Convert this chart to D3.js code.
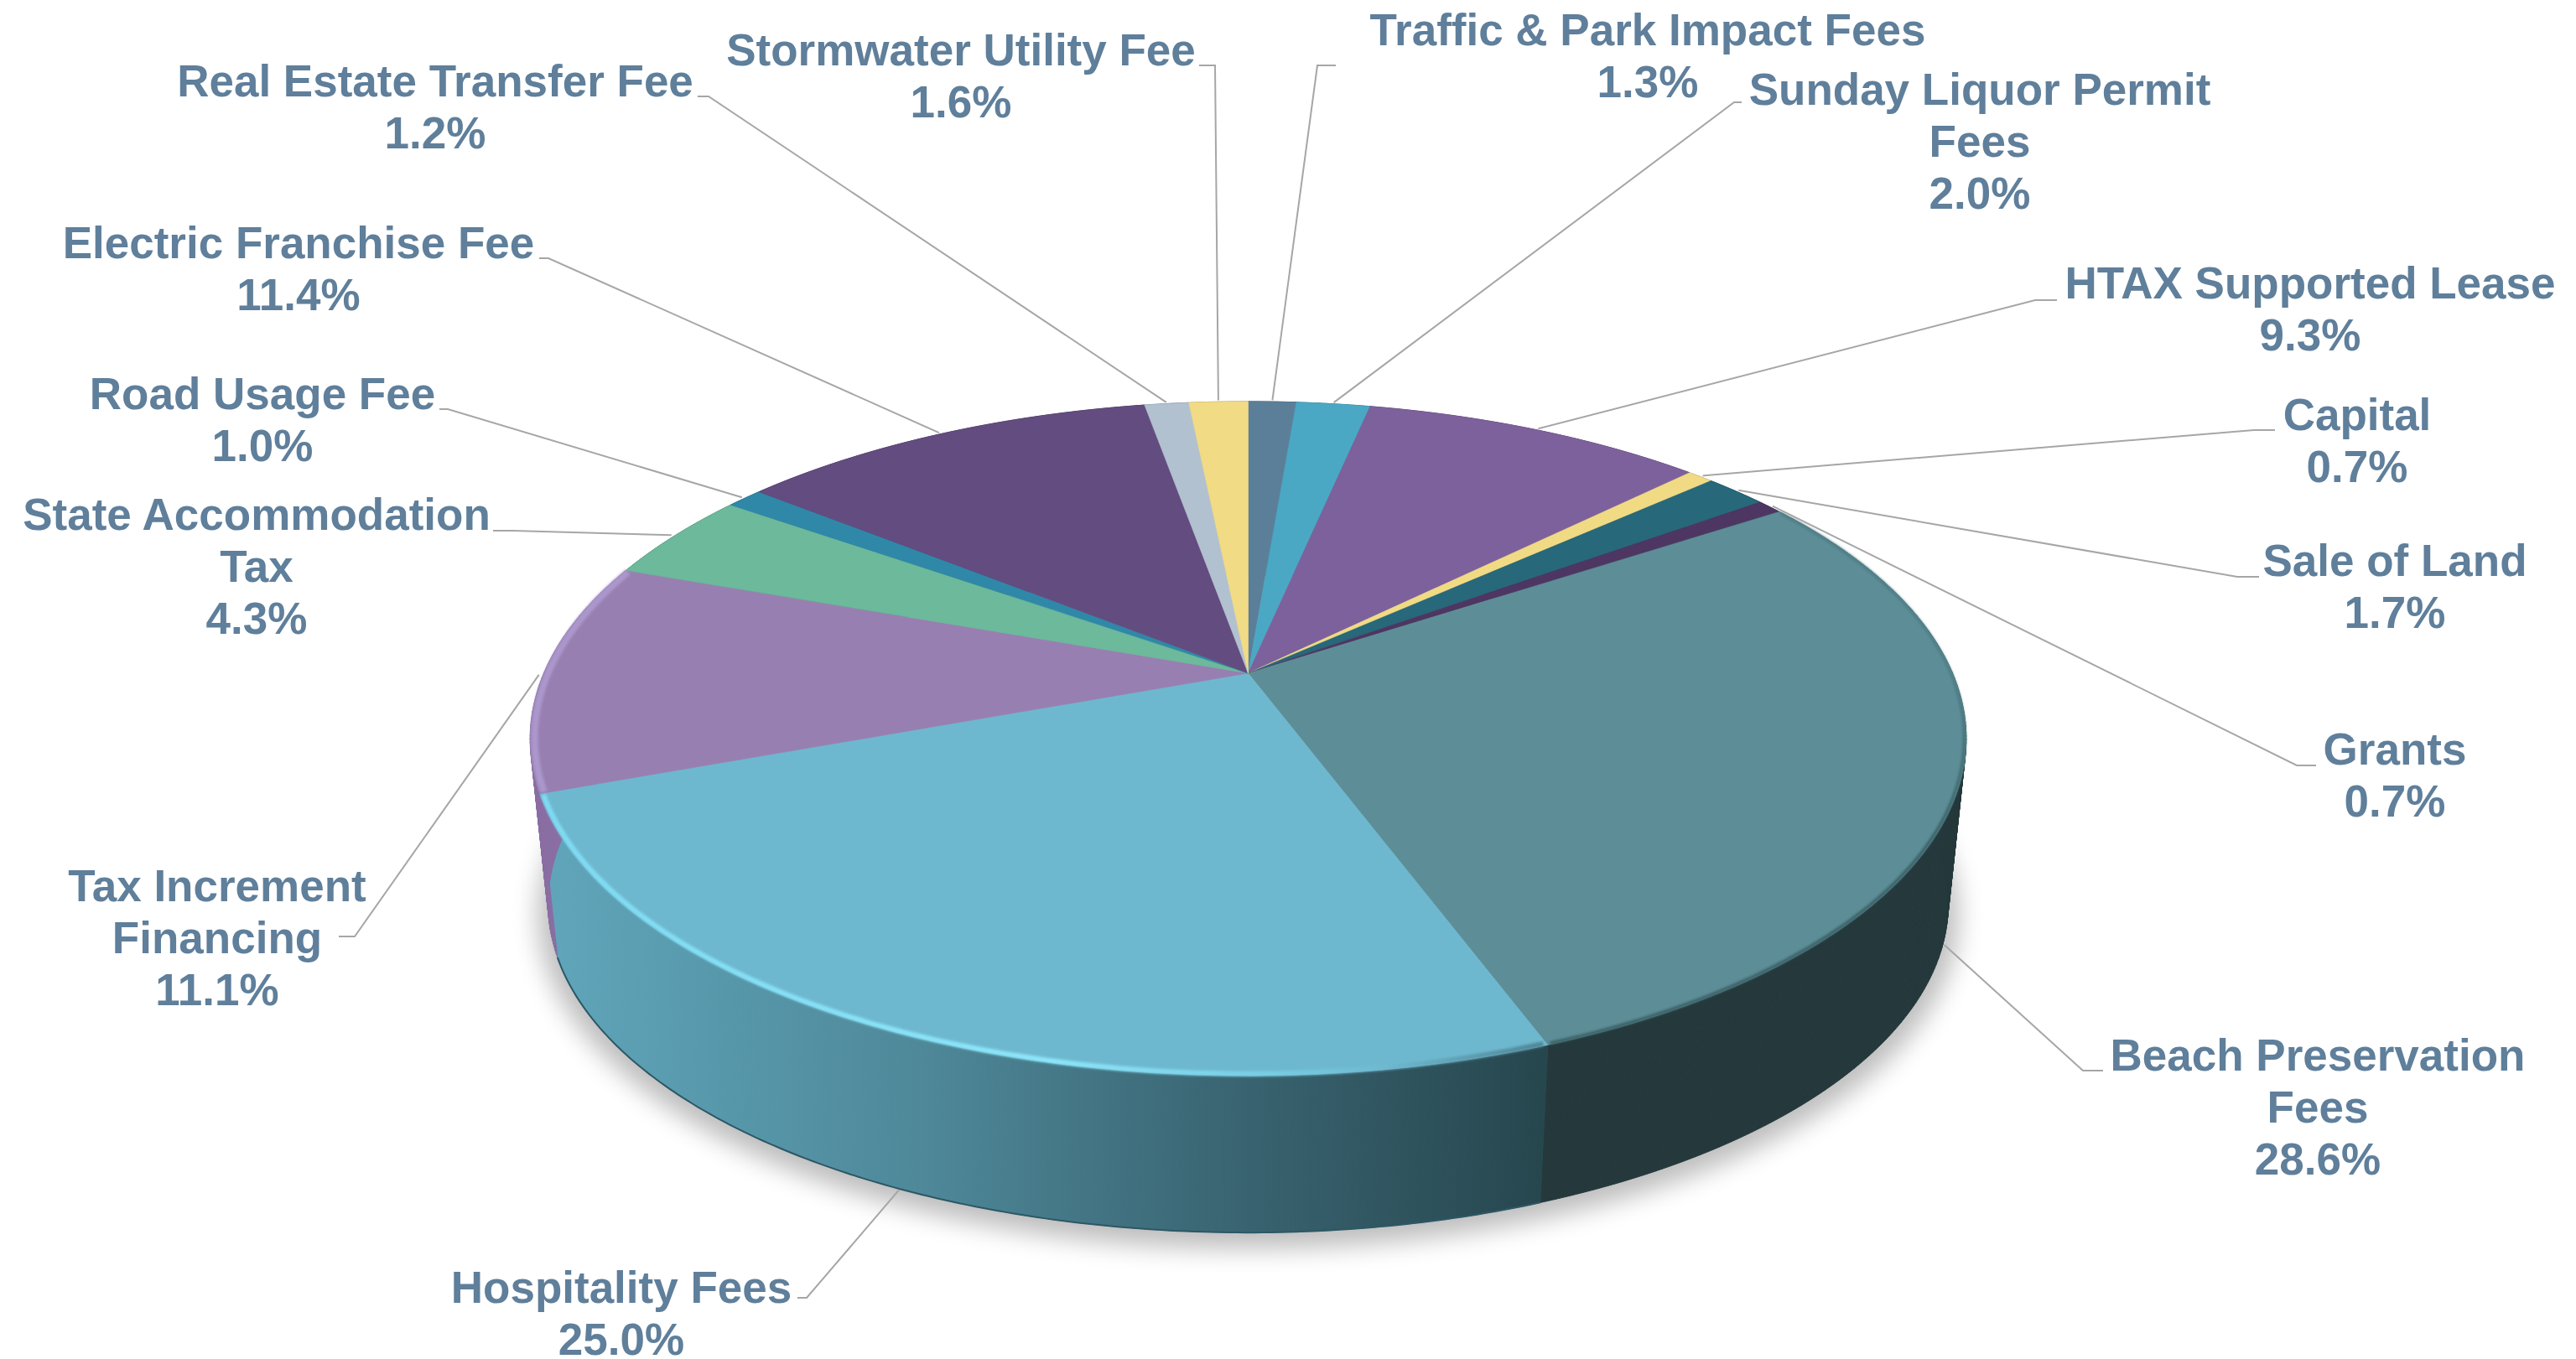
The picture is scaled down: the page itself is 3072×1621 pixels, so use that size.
<!DOCTYPE html>
<html>
<head>
<meta charset="utf-8">
<script src="https://cdn.jsdelivr.net/npm/d3@7"></script>
<style>
  body { margin: 0; background: #fff; }
  svg { display: block; }
</style>
</head>
<body>
<svg width="3072" height="1621"></svg>
<script>
// slices run clockwise from 12 o'clock
var categories = ["Traffic & Park Impact Fees", "Sunday Liquor Permit\nFees", "HTAX Supported Lease", "Capital",
  "Sale of Land", "Grants", "Beach Preservation\nFees", "Hospitality Fees", "Tax Increment\nFinancing",
  "State Accommodation\nTax", "Road Usage Fee", "Electric Franchise Fee", "Real Estate Transfer Fee", "Stormwater Utility Fee"];
var shares = [1.3, 2.0, 9.3, 0.7, 1.7, 0.7, 28.6, 25.0, 11.1, 4.3, 1.0, 11.4, 1.2, 1.6];
var topColors = ["#5c7f99", "#4ba8c4", "#7d619c", "#f0da84", "#27687a", "#4d3662", "#5d8e97",
  "#6eb8cf", "#987fb1", "#6cb99b", "#3088a8", "#634c80", "#b2c1d0", "#f1db85"];
var wallColors = ["#3a4f60", "#2f6a7c", "#4f3d62", "#978952", "#18414d", "#30223e", "#25393c",
  "url(#hospWall)", "#8a6ea3", "#447560", "#1e566a", "#3e3050", "#707a83", "#988a54"];

// label layout: centre x, first baseline, then leader elbow (from x, to x, y)
var labelX = [1965, 2361, 2755, 2811, 2856, 2856, 2764, 741, 259, 306, 313, 356, 519, 1146];
var labelY = [54, 125, 356, 513, 687, 912, 1277, 1554, 1075, 632, 488, 308, 115, 78];
var elbowFrom = [1593, 2077, 2453, 2713, 2694, 2762, 2508, 951, 404, 588, 524, 643, 832, 1430];
var elbowTo = [1571, 2068, 2427, 2688, 2668, 2739, 2484, 962, 423, 611, 534, 654, 845, 1449];
var elbowY = [78, 122, 358, 513, 688, 913, 1277, 1548, 1117, 633, 488, 308, 115, 78];
var leaderOnBase = [false, false, false, false, false, false, true, true, false, false, false, false, false, false];

var cx = 1488.5, cy = 803;
var rimX = 840, rimY = 387, persp = 0.194;
var baseShrink = 0.975, baseDrop = 199;
var lineGap = 62;

var svg = d3.select("svg");
var defs = svg.append("defs");

defs.append("filter").attr("id", "soft")
  .attr("filterUnits", "userSpaceOnUse").attr("x", 0).attr("y", 0).attr("width", 3072).attr("height", 1621)
  .append("feGaussianBlur").attr("stdDeviation", 15);
defs.append("filter").attr("id", "softEdge")
  .attr("filterUnits", "userSpaceOnUse").attr("x", 0).attr("y", 0).attr("width", 3072).attr("height", 1621)
  .append("feGaussianBlur").attr("stdDeviation", 1.6);

var wallGrad = defs.append("linearGradient").attr("id", "hospWall")
  .attr("gradientUnits", "userSpaceOnUse").attr("x1", 670).attr("x2", 1834).attr("y1", 0).attr("y2", 0);
wallGrad.append("stop").attr("offset", 0).attr("stop-color", "#5fa4b9");
wallGrad.append("stop").attr("offset", 0.37).attr("stop-color", "#4e8899");
wallGrad.append("stop").attr("offset", 0.71).attr("stop-color", "#38626f");
wallGrad.append("stop").attr("offset", 1).attr("stop-color", "#27474f");

var rimGrad = defs.append("linearGradient").attr("id", "hospRim")
  .attr("gradientUnits", "userSpaceOnUse").attr("x1", 650).attr("x2", 1843).attr("y1", 0).attr("y2", 0);
rimGrad.append("stop").attr("offset", 0).attr("stop-color", "#7fdcf3");
rimGrad.append("stop").attr("offset", 0.5).attr("stop-color", "#8de6fa");
rimGrad.append("stop").attr("offset", 0.72).attr("stop-color", "#78cfe5");
rimGrad.append("stop").attr("offset", 0.84).attr("stop-color", "#6eb8cf");
rimGrad.append("stop").attr("offset", 1).attr("stop-color", "#4f8494");

// beach rim only darkens toward the front
var beachRim = defs.append("linearGradient").attr("id", "beachRim")
  .attr("gradientUnits", "userSpaceOnUse").attr("x1", 0).attr("x2", 0).attr("y1", 800).attr("y2", 1000);
beachRim.append("stop").attr("offset", 0).attr("stop-color", "#4f7d86");
beachRim.append("stop").attr("offset", 1).attr("stop-color", "#385b62");

// perspective projection of a point on the pie top, angle clockwise from 12 o'clock
function project(angle, r) {
  var u = r * Math.sin(angle), v = r * Math.cos(angle);
  var w = 1 + persp * v;
  return [rimX * u / w, -rimY * v / w];
}
function topPoint(angle, r) {
  var p = project(angle, r === undefined ? 1 : r);
  return [cx + p[0], cy + p[1]];
}
function basePoint(angle, r) {
  var p = project(angle, r === undefined ? 1 : r);
  return [cx + baseShrink * p[0], cy + baseDrop + baseShrink * p[1]];
}
function arcSamples(a0, a1) {
  var n = Math.max(2, Math.ceil((a1 - a0) / 0.01));
  return d3.range(n + 1).map(function(i) { return a0 + (a1 - a0) * i / n; });
}

var line = d3.line();
var slices = d3.pie().sort(null).value(function(d) { return d; }).startAngle(0).endAngle(2 * Math.PI)(shares);

// shadow under the base
svg.append("path")
  .attr("d", line(arcSamples(0, 2 * Math.PI).map(function(a) {
    var p = basePoint(a, 1.014);
    return [p[0], p[1] + 11];
  })) + "Z")
  .attr("fill", "#000")
  .attr("opacity", 0.26)
  .attr("filter", "url(#soft)");

// outer walls as small ruled quads, so the silhouette follows the tangent between both rims
var wallQuads = [];
slices.forEach(function(d, i) {
  var s = arcSamples(d.startAngle, d.endAngle);
  d3.pairs(s).forEach(function(p) {
    wallQuads.push({ a0: p[0], a1: p[1], slice: i });
  });
});
svg.selectAll("path.wall")
  .data(wallQuads)
  .enter()
  .append("path")
  .attr("class", "wall")
  .attr("d", function(d) {
    return line([topPoint(d.a0), topPoint(d.a1), basePoint(d.a1), basePoint(d.a0)]) + "Z";
  })
  .attr("fill", function(d) { return wallColors[d.slice]; })
  .attr("stroke", function(d) { return wallColors[d.slice]; })
  .attr("stroke-width", 1);

// thin dark line along the base of the big front wall
var hosp = slices[7];
svg.append("path")
  .attr("d", line(arcSamples(hosp.startAngle, hosp.endAngle).map(function(a) { return basePoint(a); })))
  .attr("fill", "none")
  .attr("stroke", "#2c5866")
  .attr("stroke-width", 2);

svg.selectAll("path.top")
  .data(slices)
  .enter()
  .append("path")
  .attr("class", "top")
  .attr("d", function(d) {
    var s = arcSamples(d.startAngle, d.endAngle);
    return line([[cx, cy]].concat(s.map(function(a) { return topPoint(a); }))) + "Z";
  })
  .attr("fill", function(d, i) { return topColors[i]; })
  .attr("stroke", function(d, i) { return topColors[i]; })
  .attr("stroke-width", 0.6);

// bevel highlights on the rim of the three front slices: slice, colour, width, radius
var rimStyles = [[6, "url(#beachRim)", 3.5, 0.9975], [7, "url(#hospRim)", 6, 0.996], [8, "#ab97cc", 8, 0.994]];
svg.selectAll("path.rim")
  .data(rimStyles)
  .enter()
  .append("path")
  .attr("class", "rim")
  .attr("d", function(d) {
    var sl = slices[d[0]];
    var a0 = sl.startAngle + 0.004, a1 = sl.endAngle - 0.004;
    return line(arcSamples(a0, a1).map(function(a) { return topPoint(a, d[3]); }));
  })
  .attr("fill", "none")
  .attr("stroke", function(d) { return d[1]; })
  .attr("stroke-width", function(d) { return d[2]; })
  .attr("filter", "url(#softEdge)");

// leader lines
svg.selectAll("path.leader")
  .data(slices)
  .enter()
  .append("path")
  .attr("class", "leader")
  .attr("d", function(d, i) {
    var mid = (d.startAngle + d.endAngle) / 2;
    var end = leaderOnBase[i] ? basePoint(mid, 1.002) : topPoint(mid, 1.006);
    return line([[elbowFrom[i], elbowY[i]], [elbowTo[i], elbowY[i]], end]);
  })
  .attr("fill", "none")
  .attr("stroke", "#a6a6a6")
  .attr("stroke-width", 2);

// labels
var fmt = d3.format(".1f");
var labels = svg.selectAll("text.label")
  .data(slices)
  .enter()
  .append("text")
  .attr("class", "label")
  .attr("text-anchor", "middle")
  .attr("font-family", "'Liberation Sans', Arial, sans-serif")
  .attr("font-weight", "bold")
  .attr("font-size", 53)
  .attr("fill", "#5f7f9b");

labels.each(function(d, i) {
  var rows = categories[i].split("\n").concat([fmt(d.value) + "%"]);
  d3.select(this).selectAll("tspan")
    .data(rows)
    .enter()
    .append("tspan")
    .attr("x", labelX[i])
    .attr("y", function(r, j) { return labelY[i] + j * lineGap; })
    .text(function(r) { return r; });
});
</script>
</body>
</html>
